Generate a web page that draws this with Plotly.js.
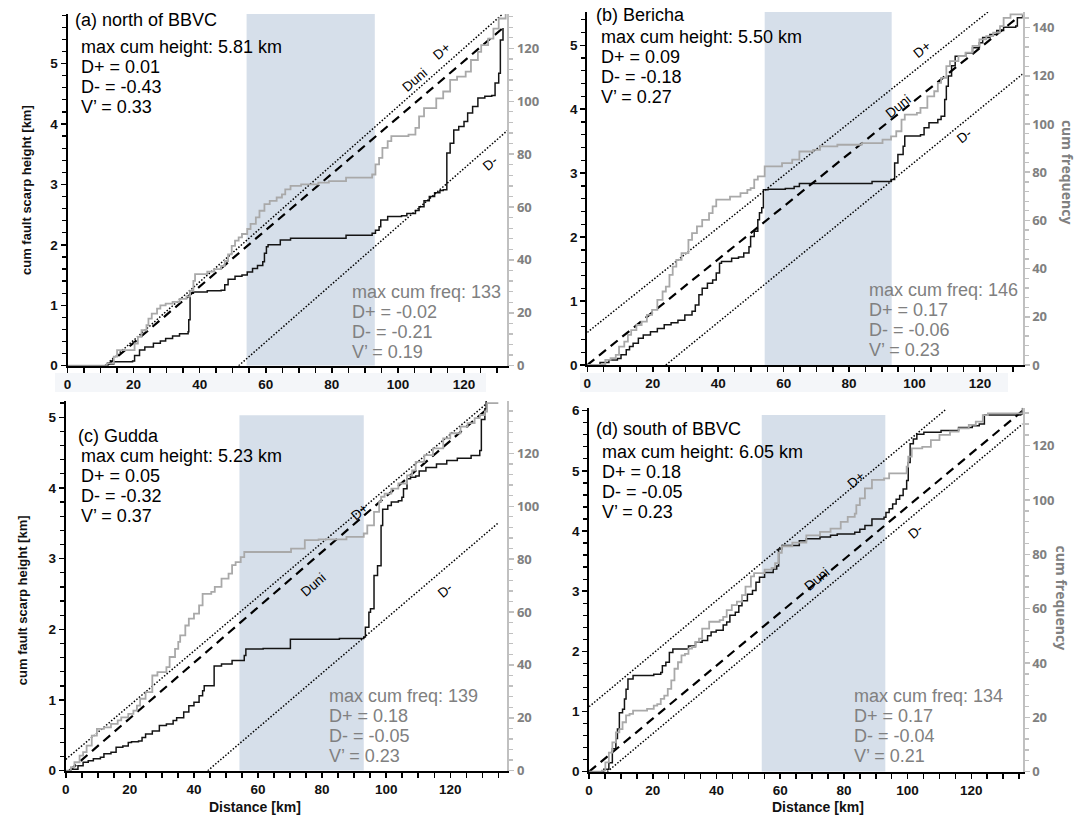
<!DOCTYPE html>
<html><head><meta charset="utf-8">
<script src="https://cdn.plot.ly/plotly-3.0.1.min.js"></script>
<style>html,body{margin:0;padding:0;background:#fff;}#chart{width:1086px;height:818px;}</style>
</head><body><div id="chart"></div>
<script>
// ---------------- DATA ----------------
const panelTitles = ['(a) north of BBVC', '(b) Bericha', '(c) Gudda', '(d) south of BBVC'];
const maxCumHeight = [5.81, 5.50, 5.23, 6.05];
const heightDplus = [0.01, 0.09, 0.05, 0.18];
const heightDminus = [-0.43, -0.18, -0.32, -0.05];
const heightV = [0.33, 0.27, 0.37, 0.23];
const maxCumFreq = [133, 146, 139, 134];
const freqDplus = [-0.02, 0.17, 0.18, 0.17];
const freqDminus = [-0.21, -0.06, -0.05, -0.04];
const freqV = [0.19, 0.23, 0.23, 0.21];
const bandKm = [54.2, 93];

// (a) north of BBVC
const distA_h = [0,11.9,14.0,19.7,20.3,21.8,23.4,26.0,28.1,29.7,31.8,33.9,36.5,36.7,37.1,38.1,42.3,46.5,47.6,48.6,50.7,52.8,54.4,56.0,57.5,59.1,59.6,60.2,60.7,64.4,67.5,84.3,92.2,93.2,94.3,94.8,96.9,101.1,102.7,105.3,106.4,107.9,109.5,111.1,112.7,113.7,114.8,115.8,116.9,118.4,120.0,121.1,122.6,124.2,126.3,128.4,129.4,130.5,131.0,131.8];
const heightA = [0,0.03,0.066,0.077,0.17,0.26,0.31,0.37,0.41,0.45,0.49,0.53,0.56,0.76,1.20,1.22,1.24,1.25,1.34,1.43,1.48,1.50,1.55,1.61,1.66,1.72,1.86,1.97,2.00,2.08,2.11,2.16,2.19,2.24,2.30,2.41,2.47,2.48,2.52,2.57,2.63,2.73,2.80,2.86,2.90,2.91,3.52,3.68,3.90,3.96,4.04,4.18,4.29,4.43,4.46,4.47,4.68,4.84,5.39,5.59];
const distA_f = [0,11.9,14.0,15.0,19.2,20.3,21.3,22.4,23.9,24.5,25.5,27.1,28.1,29.7,31.8,33.9,36.0,37.1,38.1,38.6,41.3,42.3,44.4,46.5,47.6,48.6,49.7,50.7,51.8,52.8,54.4,55.4,57.0,58.1,59.6,61.2,63.3,64.9,65.9,67.5,70.7,75.9,79.1,84.3,92.2,93.2,94.3,95.3,96.9,98.0,103.2,105.3,106.4,107.9,111.6,113.7,115.8,117.9,120.5,122.1,124.2,125.2,127.3,128.9,130.5,132.6];
const freqA = [0,0.9,3.4,5.9,5.9,8.4,10.9,13.4,15.3,17.8,19.7,21.6,22.8,23.5,24.1,25.3,26.2,28.3,32.1,34.6,34.6,35.6,36.5,37.7,39.6,42.1,45.3,47.3,48.5,49.8,51.7,53.6,56.1,58.6,61.1,62.3,63.6,64.8,66.7,68.0,68.6,69.2,69.8,71.1,72.3,76.1,78.6,82.4,84.9,86.8,87.4,89.9,94.3,97.4,101.1,103.7,108.1,109.3,111.2,115.6,118.7,121.2,123.7,127.5,131.3,133];
const duniA_x = [11.9, 131.8], duniA_y = [0, 5.59];
const dplusA_x = [11.3, 131.5], dplusA_y = [0, 5.81];
const dminusA_x = [51.8, 133.1], dminusA_y = [0, 3.89];

// (b) Bericha
const distB_h = [0,3.9,6.6,9.2,10.3,11.9,12.9,14.0,15.6,17.1,19.3,21.4,23.5,25.6,27.7,29.8,32.0,33.0,34.1,35.1,36.7,38.3,39.4,40.4,41.0,42.0,44.1,46.2,47.8,49.4,49.9,51.0,52.1,52.6,53.3,53.8,55.2,60.5,63.2,64.8,71.1,81.7,87.0,92.8,93.9,94.9,96.5,97.0,101.8,102.9,104.4,107.1,108.1,109.2,109.7,110.3,111.3,112.4,115.6,117.7,119.8,120.8,123.0,125.1,127.2,130.9,131.4,133.0];
const heightB = [0,0.04,0.08,0.10,0.16,0.24,0.29,0.34,0.42,0.47,0.52,0.57,0.63,0.66,0.70,0.78,0.84,0.94,1.10,1.20,1.28,1.33,1.44,1.59,1.62,1.62,1.67,1.69,1.75,1.85,2.01,2.09,2.27,2.38,2.46,2.74,2.75,2.76,2.79,2.84,2.84,2.84,2.87,2.90,3.16,3.29,3.42,3.58,3.60,3.71,3.79,3.84,3.89,4.15,4.36,4.52,4.68,4.83,4.88,4.96,5.04,5.12,5.17,5.23,5.28,5.30,5.43,5.48];
const distB_f = [0,4.4,5.5,7.1,8.7,9.7,11.3,12.4,13.4,15.0,16.6,18.2,19.8,21.4,23.0,24.0,25.1,26.1,27.2,28.8,30.9,32.0,33.5,35.1,37.2,38.3,39.4,41.5,43.6,46.8,48.9,49.9,51.0,52.1,54.2,59.5,62.6,64.8,69.0,71.1,76.4,83.8,90.2,92.8,94.4,96.0,97.0,100.7,101.8,103.9,106.0,107.1,108.1,109.7,110.8,113.4,115.6,117.7,119.8,121.9,124.0,126.1,127.2,129.3,133.0];
const freqB = [0,0.4,2.1,2.8,4.2,7.6,9.7,12.5,14.5,16.6,18.0,20.8,22.9,27.0,30.5,32.5,37.4,40.8,43.6,46.4,51.9,54.7,57.5,60.2,63.0,65.8,68.6,68.6,69.9,71.3,72.7,73.4,76.9,78.3,82.4,83.8,85.2,88.6,89.3,90.7,91.4,92.1,93.5,94.9,97.0,101.8,103.9,104.6,106.7,111.5,113.6,117.1,119.2,124.0,126.1,128.2,129.6,132.4,135.1,136.5,137.9,140.6,144.1,145.5,146];
const duniB_x = [0, 131.4], duniB_y = [0, 5.43];
const dplusB_x = [0, 122.4], dplusB_y = [0.51, 5.52];
const dminusB_x = [24.0, 133.0], dminusB_y = [0, 4.55];

// (c) Gudda
const distC_h = [0,1.6,3.8,5.4,7.0,8.6,10.8,11.9,14.1,15.7,17.8,19.5,20.5,22.7,23.8,24.9,27.0,29.2,31.4,33.5,34.6,36.8,38.4,40.0,41.6,42.7,43.2,45.4,46.3,48.6,51.9,54.6,55.7,56.2,61.6,69.7,70.1,74.6,85.4,93.0,93.5,94.6,95.1,96.2,97.3,98.4,98.9,100.5,101.6,103.8,104.9,105.4,106.5,107.6,109.2,110.3,112.4,115.7,118.9,122.2,126.5,129.2,129.7,130.8,131.2];
const heightC = [0,0.02,0.07,0.12,0.14,0.17,0.19,0.24,0.26,0.33,0.35,0.40,0.41,0.42,0.47,0.52,0.56,0.64,0.66,0.71,0.75,0.83,0.92,0.97,1.06,1.13,1.20,1.20,1.48,1.51,1.56,1.56,1.63,1.72,1.73,1.73,1.86,1.86,1.87,1.89,2.03,2.24,2.29,2.76,2.90,3.47,3.70,3.75,3.80,3.82,3.87,3.99,4.13,4.15,4.17,4.24,4.29,4.34,4.39,4.42,4.46,4.53,4.97,5.12,5.23];
const distC_f = [0,1.6,2.7,4.3,5.4,6.5,8.1,9.7,11.9,14.1,16.2,17.3,19.5,21.1,22.2,23.2,24.9,27.0,28.6,29.7,31.4,32.4,34.1,35.1,35.7,37.3,38.4,40.0,41.6,42.7,45.4,46.5,48.6,50.8,51.9,53.0,54.6,55.7,69.2,70.3,73.5,74.6,78.9,87.6,93.0,94.1,96.2,97.8,98.4,99.5,101.6,103.8,106.5,108.1,109.2,111.9,114.6,117.8,120.0,123.2,125.4,127.6,129.2,130.8,131.5,135];
const freqC = [0,1.3,3.2,5.7,7.0,9.5,13.3,15.8,16.4,17.7,19.0,20.2,21.5,22.7,24.6,27.2,29.7,36.0,37.3,37.3,39.2,43.0,46.1,48.7,51.2,54.9,57.5,59.4,62.5,66.9,67.6,69.5,72.6,74.5,77.7,78.9,80.8,82.7,82.7,84.0,84.0,87.2,87.5,88.4,89.7,92.8,97.9,101.7,103.6,104.8,106.7,108.6,111.7,113.6,116.8,119.3,121.9,125.7,127.6,130.1,131.4,133.3,134.5,135.8,139,139];
const duniC_x = [1.1, 130.8], duniC_y = [0, 5.09];
const dplusC_x = [0, 131.5], dplusC_y = [0.16, 5.2];
const dminusC_x = [44.3, 135.1], dminusC_y = [0, 3.51];

// (d) south of BBVC
const distD_h = [0,4.6,6.2,7.3,8.4,8.9,9.5,10.5,11.1,11.6,12.2,13.3,13.8,18.2,20.3,22.5,23.0,24.1,25.2,26.3,31.2,33.4,35.5,37.2,38.3,39.9,42.1,43.2,44.2,45.9,47.0,48.0,49.7,51.3,52.4,53.5,55.1,57.8,58.9,59.5,60.5,64.9,66.0,68.2,72.5,75.8,77.9,83.4,85.0,86.6,88.8,92.6,93.2,94.2,95.3,96.4,97.5,98.6,99.7,100.2,100.8,101.8,102.9,105.1,110.5,116.0,120.3,122.5,124.1,135.5,136.1];
const heightD = [0,0.04,0.15,0.38,0.55,0.71,0.98,1.04,1.21,1.37,1.54,1.54,1.60,1.60,1.62,1.65,1.76,1.82,1.98,2.04,2.09,2.15,2.18,2.26,2.32,2.35,2.44,2.49,2.60,2.65,2.76,2.84,2.95,3.01,3.15,3.23,3.31,3.37,3.42,3.70,3.76,3.76,3.84,3.87,3.90,3.93,3.95,3.98,4.03,4.09,4.20,4.23,4.31,4.37,4.45,4.53,4.59,4.70,4.84,5.14,5.45,5.53,5.61,5.64,5.67,5.72,5.75,5.78,5.93,5.94,6.05];
const distD_f = [0,4.0,5.1,6.2,7.3,8.4,9.5,10.5,11.6,12.7,13.8,16.0,18.2,20.3,21.4,22.5,23.6,24.7,25.8,26.8,27.9,29.0,30.1,31.2,32.3,33.4,34.5,35.5,37.7,41.0,42.1,43.2,44.8,46.4,48.0,49.1,50.8,51.8,55.1,57.3,58.4,59.5,60.5,63.8,66.0,68.2,72.5,75.8,79.0,81.2,83.4,83.9,85.0,86.6,88.8,92.6,94.2,99.7,100.2,101.3,104.6,107.3,110.0,113.3,116.0,119.2,121.4,123.6,125.2,136.1];
const freqD = [0,0.4,3.4,7.0,10.8,14.5,15.7,18.2,20.7,21.3,22.5,22.5,23.1,24.3,24.9,26.8,28.0,30.5,33.6,37.9,40.3,42.8,43.4,45.3,45.9,47.8,49.0,52.7,55.2,55.8,57.0,59.5,61.3,62.6,65.0,68.1,71.9,73.1,74.4,75.0,76.8,80.6,83.0,84.3,84.3,87.0,88.3,89.5,92.0,93.8,95.0,98.1,100.6,104.3,107.4,108.0,109.8,112.3,116.0,119.0,119.6,122.1,124.0,125.2,126.4,127.7,128.9,131.3,131.9,134];
const duniD_x = [0, 136.1], duniD_y = [0, 6.0];
const dplusD_x = [0, 112.2], dplusD_y = [1.08, 6.03];
const dminusD_x = [5.7, 136.1], dminusD_y = [0, 5.78];

// reference-line label anchors (km, km)
const lblDuni_x = [105.3, 94.9, 77.3, 71.4], lblDuni_y = [4.73, 4.05, 2.64, 3.2];
const lblDplus_x = [113.2, 102.3, 91.9, 83.9], lblDplus_y = [5.2, 4.94, 3.66, 4.86];
const lblDminus_x = [127.9, 115, 118.4, 102.4], lblDminus_y = [3.35, 3.58, 2.55, 4.0];

// ---------------- LAYOUT CONFIG ----------------
const W = 1086, H = 818;
const PX = p => p / W, PY = p => 1 - p / H;
const series = [
  {dh: distA_h, h: heightA, df: distA_f, f: freqA, du: [duniA_x, duniA_y], dp: [dplusA_x, dplusA_y], dm: [dminusA_x, dminusA_y]},
  {dh: distB_h, h: heightB, df: distB_f, f: freqB, du: [duniB_x, duniB_y], dp: [dplusB_x, dplusB_y], dm: [dminusB_x, dminusB_y]},
  {dh: distC_h, h: heightC, df: distC_f, f: freqC, du: [duniC_x, duniC_y], dp: [dplusC_x, dplusC_y], dm: [dminusC_x, dminusC_y]},
  {dh: distD_h, h: heightD, df: distD_f, f: freqD, du: [duniD_x, duniD_y], dp: [dplusD_x, dplusD_y], dm: [dminusD_x, dminusD_y]}
];
const geo = [
  {x0: 67.5, x1: 507.3, yt: 14, yb: 365.7, xr: 133.1, yr: 5.82, fr: 133, bandTop: 5.82,
   tp: [72.7, 20], sp: [79, 47], fp: [350.4, 292], ang: -41, strip: [55, 486]},
  {x0: 587.3, x1: 1022.6, yt: 12, yb: 365, xr: 133.0, yr: 5.52, fr: 146.5, bandTop: 5.52,
   tp: [594.2, 15], sp: [599.1, 37.5], fp: [866.8, 289.5], ang: -39, strip: [580, 1008]},
  {x0: 65.8, x1: 507.3, yt: 401, yb: 770.7, xr: 137.8, yr: 5.23, fr: 139.8, bandTop: 5.03,
   tp: [75.5, 435.7], sp: [79, 455.7], fp: [327.2, 695.7], ang: -41, strip: null},
  {x0: 589.1, x1: 1022.6, yt: 407.7, yb: 771.7, xr: 136.1, yr: 6.05, fr: 134, bandTop: 5.93,
   tp: [594.2, 429], sp: [600.1, 452.3], fp: [851.9, 695.7], ang: -40, strip: null}
];
const yTitlePos = [[26, 190], null, [22.5, 600.7], null];
const xTitlePos = [null, null, [254.5, 807], [818.3, 807]];
const fTitlePos = [null, [1067.6, 172.5], null, [1062.4, 598]];

const FONT = 'Liberation Sans, Arial, sans-serif';
const GRAYTXT = '#808080';
const data = [], shapes = [], annotations = [];
const layout = {
  width: W, height: H, margin: {l: 0, r: 0, t: 0, b: 0},
  paper_bgcolor: '#fff', plot_bgcolor: 'rgba(0,0,0,0)', showlegend: false,
  font: {family: FONT, color: '#000'}
};

geo.forEach((g, i) => {
  const n = i + 1;
  const xa = n === 1 ? 'x' : 'x' + n;
  const yl = 2 * n - 1, yrn = 2 * n;
  const yaL = yl === 1 ? 'y' : 'y' + yl, yaR = 'y' + yrn;
  const xKey = n === 1 ? 'xaxis' : 'xaxis' + n;
  const yLKey = yl === 1 ? 'yaxis' : 'yaxis' + yl, yRKey = 'yaxis' + yrn;
  const s = series[i];

  layout[xKey] = {
    domain: [PX(g.x0), PX(g.x1)], range: [0, g.xr], anchor: yaL,
    showline: true, linecolor: '#000', linewidth: 2, showgrid: false, zeroline: false,
    ticks: 'outside', ticklen: 5, tickwidth: 1.5, tickcolor: '#000', tick0: 0, dtick: 20,
    minor: {dtick: 5, tick0: 0, ticks: 'outside', ticklen: 5, tickwidth: 1.5, tickcolor: '#000'},
    tickfont: {family: FONT, size: 13.5, color: '#111', weight: 'bold'}
  };
  layout[yLKey] = {
    domain: [PY(g.yb), PY(g.yt)], range: [0, g.yr], anchor: xa,
    showline: true, linecolor: '#000', linewidth: 2, showgrid: false, zeroline: false,
    ticks: 'outside', ticklen: 5, tickwidth: 1.5, tickcolor: '#000', tick0: 0, dtick: 1,
    minor: {dtick: 0.2, tick0: 0, ticks: 'outside', ticklen: 4, tickwidth: 1.3, tickcolor: '#000'},
    tickfont: {family: FONT, size: 13.5, color: '#111', weight: 'bold'}
  };
  layout[yRKey] = {
    overlaying: yaL, side: 'right', anchor: xa, range: [0, g.fr],
    showline: true, linecolor: '#c0c0c0', linewidth: 2, showgrid: false, zeroline: false,
    ticks: 'outside', ticklen: 5, tickwidth: 1.5, tickcolor: '#c0c0c0', tick0: 0, dtick: 20,
    minor: {dtick: 4, tick0: 0, ticks: 'outside', ticklen: 4, tickwidth: 1.3, tickcolor: '#c0c0c0'},
    tickfont: {family: 'Open Sans, sans-serif', size: 13, color: GRAYTXT, weight: 'bold'}
  };

  // faint strip behind the upper x tick labels
  if (g.strip) shapes.push({type: 'rect', xref: 'paper', yref: 'paper', x0: PX(g.strip[0]), x1: PX(g.strip[1]),
    y0: PY(392), y1: PY(373), fillcolor: '#f4f6f9', line: {width: 0}, layer: 'below'});

  // study band
  shapes.push({type: 'rect', xref: xa, yref: yaL, x0: bandKm[0], x1: bandKm[1], y0: 0, y1: g.bandTop,
    fillcolor: '#d6dfea', line: {width: 0}, layer: 'below'});

  // traces
  data.push({x: s.df, y: s.f, xaxis: xa, yaxis: yaR, type: 'scatter', mode: 'lines', name: 'cum frequency',
    line: {color: '#a9a9a9', width: 1.8, shape: 'hv'}, hoverinfo: 'skip'});
  data.push({x: s.dh, y: s.h, xaxis: xa, yaxis: yaL, type: 'scatter', mode: 'lines', name: 'cum height',
    line: {color: '#141414', width: 1.5, shape: 'hv'}, hoverinfo: 'skip'});
  data.push({x: s.du[0], y: s.du[1], xaxis: xa, yaxis: yaL, type: 'scatter', mode: 'lines', name: 'Duni',
    line: {color: '#000', width: 2.2, dash: '9px,6px'}, hoverinfo: 'skip'});
  data.push({x: s.dp[0], y: s.dp[1], xaxis: xa, yaxis: yaL, type: 'scatter', mode: 'lines', name: 'D+',
    line: {color: '#000', width: 1.5, dash: '1.5px,1.8px'}, hoverinfo: 'skip'});
  data.push({x: s.dm[0], y: s.dm[1], xaxis: xa, yaxis: yaL, type: 'scatter', mode: 'lines', name: 'D-',
    line: {color: '#000', width: 1.5, dash: '1.5px,1.8px'}, hoverinfo: 'skip'});

  // line labels
  const lf = {family: FONT, size: 13.5, color: '#000'};
  [['Duni', lblDuni_x[i], lblDuni_y[i]], ['D+', lblDplus_x[i], lblDplus_y[i]], ['D-', lblDminus_x[i], lblDminus_y[i]]].forEach(l => {
    annotations.push({xref: xa, yref: yaL, x: l[1], y: l[2], text: l[0], showarrow: false, textangle: g.ang, font: lf});
  });

  // panel title & stats
  const tf = {family: FONT, size: 18, color: '#000'};
  annotations.push({xref: 'paper', yref: 'paper', x: PX(g.tp[0]), y: PY(g.tp[1]), xanchor: 'left', yanchor: 'middle',
    text: panelTitles[i], showarrow: false, font: tf});
  const statLines = ['max cum height: ' + maxCumHeight[i].toFixed(2) + ' km', 'D+ = ' + heightDplus[i].toFixed(2),
    'D- = ' + heightDminus[i].toFixed(2), 'V\u2019 = ' + heightV[i].toFixed(2)];
  statLines.forEach((t, k) => annotations.push({xref: 'paper', yref: 'paper', x: PX(g.sp[0]), y: PY(g.sp[1] + 20 * k),
    xanchor: 'left', yanchor: 'middle', text: t, showarrow: false, font: tf}));
  const freqLines = ['max cum freq: ' + maxCumFreq[i], 'D+ = ' + freqDplus[i].toFixed(2),
    'D- = ' + freqDminus[i].toFixed(2), 'V\u2019 = ' + freqV[i].toFixed(2)];
  freqLines.forEach((t, k) => annotations.push({xref: 'paper', yref: 'paper', x: PX(g.fp[0]), y: PY(g.fp[1] + 20 * k),
    xanchor: 'left', yanchor: 'middle', text: t, showarrow: false, font: {family: FONT, size: 18, color: GRAYTXT}}));

  // axis titles
  if (yTitlePos[i]) annotations.push({xref: 'paper', yref: 'paper', x: PX(yTitlePos[i][0]), y: PY(yTitlePos[i][1]),
    xanchor: 'center', yanchor: 'middle', text: 'cum fault scarp height [km]', textangle: -90, showarrow: false,
    font: {family: FONT, size: 13, weight: 'bold', color: '#111'}});
  if (xTitlePos[i]) annotations.push({xref: 'paper', yref: 'paper', x: PX(xTitlePos[i][0]), y: PY(xTitlePos[i][1]),
    xanchor: 'center', yanchor: 'middle', text: 'Distance [km]', showarrow: false,
    font: {family: FONT, size: 14, weight: 'bold', color: '#111'}});
  if (fTitlePos[i]) annotations.push({xref: 'paper', yref: 'paper', x: PX(fTitlePos[i][0]), y: PY(fTitlePos[i][1]),
    xanchor: 'center', yanchor: 'middle', text: 'cum frequency', textangle: 90, showarrow: false,
    font: {family: 'Open Sans, sans-serif', size: 14, weight: 'bold', color: GRAYTXT}});
});

layout.shapes = shapes;
layout.annotations = annotations;
Plotly.newPlot('chart', data, layout, {displayModeBar: false, staticPlot: true});
</script></body></html>
